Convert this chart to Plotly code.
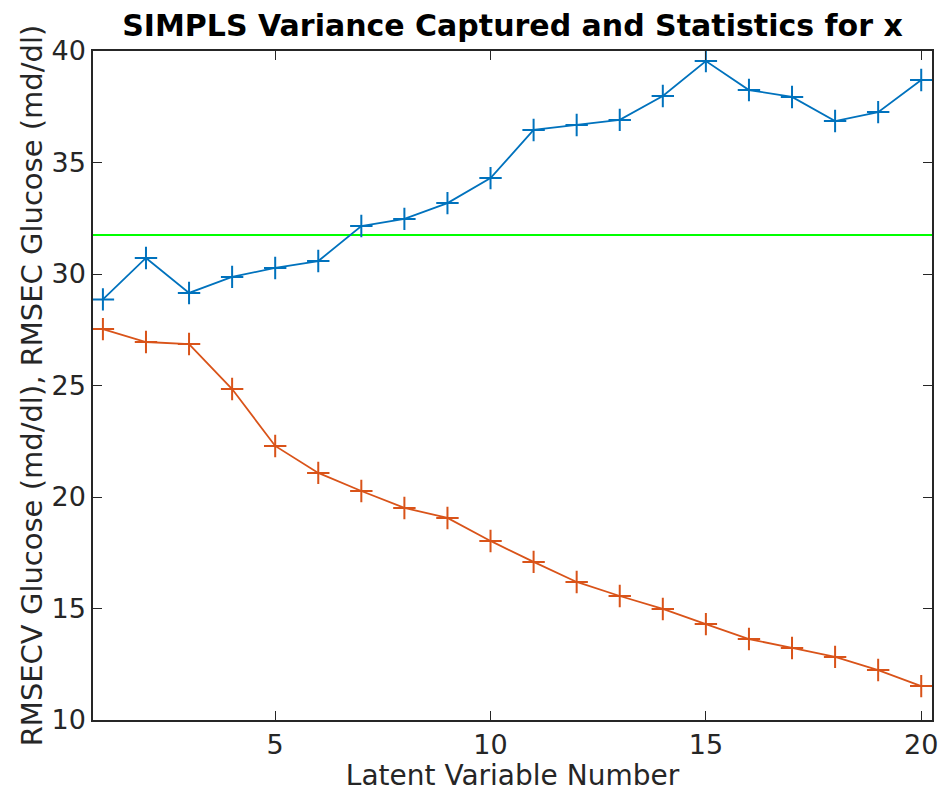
import plotly.graph_objects as go

# Latent variable numbers
latent_vars = list(range(1, 21))

# RMSECV (cross-validation error) per number of latent variables
rmsecv = [28.86, 30.72, 29.15, 29.87, 30.27, 30.58, 32.15, 32.47, 33.18, 34.30,
          36.46, 36.68, 36.91, 37.98, 39.55, 38.25, 37.94, 36.86, 37.26, 38.70]

# RMSEC (calibration error) per number of latent variables
rmsec = [27.53, 26.95, 26.86, 24.84, 22.29, 21.08, 20.27, 19.51, 19.06, 18.03,
         17.09, 16.19, 15.56, 14.98, 14.30, 13.63, 13.23, 12.83, 12.24, 11.52]

# Reference level drawn as a horizontal line
reference_level = 31.75

x_ticks = [5, 10, 15, 20]
y_ticks = [10, 15, 20, 25, 30, 35, 40]

font_family = "DejaVu Sans, Liberation Sans, Arial, sans-serif"
axis_color = "#262626"

fig = go.Figure()

fig.add_trace(go.Scatter(
    x=latent_vars, y=rmsecv, mode="lines+markers",
    line=dict(color="#0072BD", width=1.8),
    marker=dict(symbol="cross-thin", size=16, line=dict(color="#0072BD", width=2)),
    showlegend=False,
))
fig.add_trace(go.Scatter(
    x=latent_vars, y=rmsec, mode="lines+markers",
    line=dict(color="#D95319", width=1.8),
    marker=dict(symbol="cross-thin", size=16, line=dict(color="#D95319", width=2)),
    showlegend=False,
))

fig.add_hline(y=reference_level, line=dict(color="#00FF00", width=1.8), layer="below")

fig.update_layout(
    width=947, height=792,
    margin=dict(l=93, r=9, t=51, b=72),
    paper_bgcolor="white", plot_bgcolor="white",
    font=dict(family=font_family, color=axis_color),
    title=dict(
        text="<b>SIMPLS Variance Captured and Statistics for x</b>",
        xref="paper", x=0.5, xanchor="center", y=0.968, yanchor="middle",
        font=dict(size=30, color="black", family=font_family),
    ),
)

fig.update_xaxes(
    range=[0.77, 20.25], tickvals=x_ticks, ticks="inside", ticklen=9,
    tickwidth=1.3, tickcolor=axis_color, showline=True, linecolor=axis_color,
    linewidth=1.5, mirror="ticks", showgrid=False, zeroline=False,
    tickfont=dict(size=27, color=axis_color),
    title=dict(text="Latent Variable Number", font=dict(size=28, color=axis_color), standoff=0),
)
fig.update_yaxes(
    range=[10, 40], tickvals=y_ticks, ticks="inside", ticklen=9,
    tickwidth=1.3, tickcolor=axis_color, showline=True, linecolor=axis_color,
    linewidth=1.5, mirror="ticks", showgrid=False, zeroline=False,
    tickfont=dict(size=27, color=axis_color),
    title=dict(text="RMSECV Glucose (md/dl), RMSEC Glucose (md/dl)",
               font=dict(size=29, color=axis_color), standoff=0),
)

fig.write_html("out.html")
